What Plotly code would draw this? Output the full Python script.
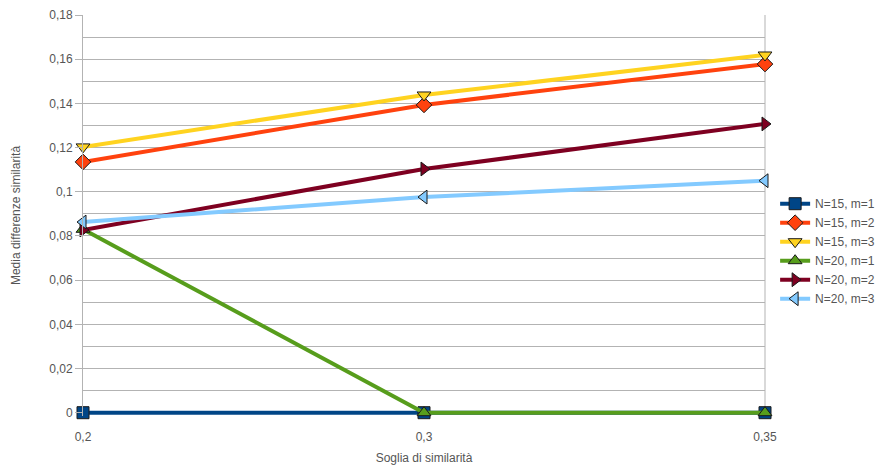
import plotly.graph_objects as go

# Similarity thresholds (categorical x axis)
soglie = ["0,2", "0,3", "0,35"]

# Mean similarity difference per configuration
n15_m1 = [0.0, 0.0, 0.0]
n15_m2 = [0.1135, 0.1393, 0.1578]
n15_m3 = [0.1203, 0.1438, 0.1619]
n20_m1 = [0.0830, 0.0, 0.0]
n20_m2 = [0.0827, 0.1103, 0.1307]
n20_m3 = [0.0863, 0.0976, 0.1050]

series = [
    ("N=15, m=1", n15_m1, "#004586", "square"),
    ("N=15, m=2", n15_m2, "#ff420e", "diamond"),
    ("N=15, m=3", n15_m3, "#ffd320", "triangle-down"),
    ("N=20, m=1", n20_m1, "#579d1c", "triangle-up"),
    ("N=20, m=2", n20_m2, "#7e0021", "triangle-right"),
    ("N=20, m=3", n20_m3, "#83caff", "triangle-left"),
]

fig = go.Figure()
for name, vals, color, symbol in series:
    fig.add_trace(go.Scatter(
        x=soglie, y=vals, name=name, mode="lines+markers",
        line=dict(color=color, width=4),
        marker=dict(symbol=symbol, size=12, color=color,
                    line=dict(color="#1a1a1a", width=1)),
        cliponaxis=False,
    ))

font = dict(family="Liberation Sans, Arial, sans-serif", size=12, color="#555555")

fig.update_layout(
    width=893, height=473,
    margin=dict(l=83, r=128, t=15, b=57, autoexpand=False),
    paper_bgcolor="white", plot_bgcolor="white",
    separators=",.",
    font=font,
    showlegend=True,
    legend=dict(xref="container", yref="container",
                x=0.868, y=0.6, xanchor="left", yanchor="top",
                font=dict(family="Liberation Sans, Arial, sans-serif", size=12, color="#555555"),
                itemwidth=30, tracegroupgap=0, bgcolor="rgba(0,0,0,0)"),
    xaxis=dict(
        title=dict(text="Soglia di similarità", font=font, standoff=10),
        type="category", range=[0, 2],
        showgrid=False, zeroline=False,
        showline=False,
        ticks="", tickfont=font, ticklabelstandoff=12,
    ),
    yaxis=dict(
        title=dict(text="Media differenze similarità", font=font, standoff=26),
        range=[-0.0015, 0.18], dtick=0.02, tick0=0,
        showgrid=True, gridcolor="#b3b3b3", gridwidth=1,
        minor=dict(dtick=0.01, showgrid=True, gridcolor="#b3b3b3", gridwidth=1),
        zeroline=False,
        showline=True, linecolor="#b3b3b3", linewidth=1,
        ticks="outside", ticklen=7, tickcolor="#b3b3b3",
        tickfont=font,
    ),
)

# Right-hand frame edge of the plot area
fig.add_shape(type="line", xref="paper", yref="paper", x0=1, x1=1, y0=0, y1=1,
              line=dict(color="#b3b3b3", width=1), layer="below")

fig.write_html("out.html")
